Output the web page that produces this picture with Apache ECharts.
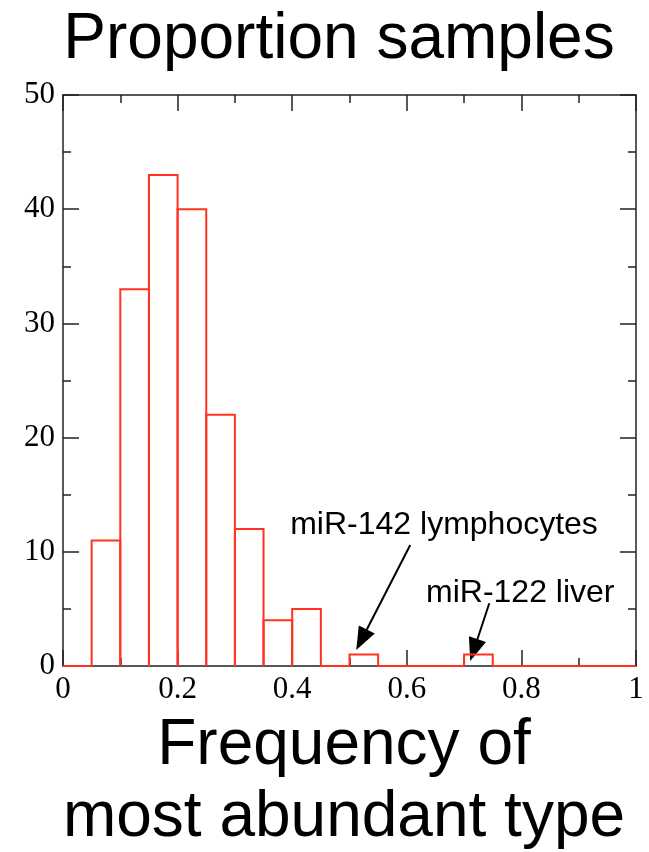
<!DOCTYPE html>
<html>
<head>
<meta charset="utf-8">
<script src="https://cdn.jsdelivr.net/npm/echarts@6/dist/echarts.min.js"></script>
<style>html,body{margin:0;padding:0;background:#fff;}#c{width:649px;height:852px;}</style>
</head>
<body>
<div id="c"></div>
<script>
const binStart = [0.00,0.05,0.10,0.15,0.20,0.25,0.30,0.35,0.40,0.45,0.50,0.55,0.60,0.65,0.70,0.75,0.80,0.85,0.90,0.95];
const binEnd   = [0.05,0.10,0.15,0.20,0.25,0.30,0.35,0.40,0.45,0.50,0.55,0.60,0.65,0.70,0.75,0.80,0.85,0.90,0.95,1.00];
const counts   = [0,11,33,43,40,22,12,4,5,0,1,0,0,0,1,0,0,0,0,0];
const xTicks = [0,0.2,0.4,0.6,0.8,1];
const yTicks = [0,10,20,30,40,50];
const annotations = [
  {name:'miR-142 lymphocytes', text:[0.665,12.3], from:[0.606,10.6], to:[0.521,2.3]},
  {name:'miR-122 liver', text:[0.798,6.4], from:[0.744,5.5], to:[0.717,1.4]}
];

const RED = '#ff3320';
const chart = echarts.init(document.getElementById('c'), null, {renderer:'canvas'});
const axisCommon = {
  type:'value', min:0,
  axisLine:{show:true, onZero:false, lineStyle:{color:'#222', width:1.5}},
  axisTick:{show:true, inside:true, length:16, lineStyle:{color:'#222', width:1.5}},
  minorTick:{show:true, splitNumber:2, length:8, lineStyle:{color:'#222', width:1.5}},
  splitLine:{show:false}, minorSplitLine:{show:false}
};
const labelFont = {fontFamily:'Liberation Serif', fontSize:31, color:'#000'};
const data = binStart.map((s,i)=>[s, binEnd[i], counts[i]]);

chart.setOption({
  animation:false,
  title:{text:'Proportion samples', left:334, textAlign:'center', top:3,
    textStyle:{fontFamily:'Liberation Sans', fontSize:64, fontWeight:'normal', color:'#000'}},
  grid:{left:63, top:95, right:13, bottom:186, outerBoundsMode:'none', containLabel:false},
  xAxis:[
    Object.assign({}, axisCommon, {position:'bottom', max:1, interval:0.2,
      axisLabel:Object.assign({margin:8, formatter:v=>xTicks.includes(+v.toFixed(2))?String(+v.toFixed(2)):''}, labelFont),
      name:'Frequency of\nmost abundant type', nameLocation:'middle', nameGap:43,
      nameTextStyle:{fontFamily:'Liberation Sans', fontSize:64, color:'#000', lineHeight:72, verticalAlign:'top', padding:[0,11,0,0]}}),
    Object.assign({}, axisCommon, {position:'top', max:1, interval:0.2, axisLabel:{show:false}})
  ],
  yAxis:[
    Object.assign({}, axisCommon, {position:'left', max:50, interval:10,
      axisLabel:Object.assign({margin:8, formatter:v=>yTicks.includes(v)?String(v):''}, labelFont)}),
    Object.assign({}, axisCommon, {position:'right', max:50, interval:10, axisLabel:{show:false}})
  ],
  series:[{
    type:'custom',
    data:data,
    z:5,
    renderItem:function(params, api){
      const p0 = api.coord([api.value(0), 0]);
      const p1 = api.coord([api.value(0), api.value(2)]);
      const p2 = api.coord([api.value(1), api.value(2)]);
      const p3 = api.coord([api.value(1), 0]);
      return {type:'polyline', shape:{points:[p0,p1,p2,p3]},
        style:{stroke:RED, lineWidth:2, fill:null}};
    },
    markLine:{
      silent:true, symbol:['none','triangle'], symbolSize:[18,23], precision:3,
      lineStyle:{color:'#000', width:2, type:'solid'}, label:{show:false},
      data:annotations.map(a=>[{coord:a.from},{coord:a.to}])
    },
    markPoint:{
      silent:true, symbol:'rect', symbolSize:0,
      label:{show:true, formatter:'{b}', position:'inside', fontFamily:'Liberation Sans', fontSize:32, color:'#000'},
      data:annotations.map(a=>({name:a.name, coord:a.text}))
    }
  }]
});
</script>
</body>
</html>
